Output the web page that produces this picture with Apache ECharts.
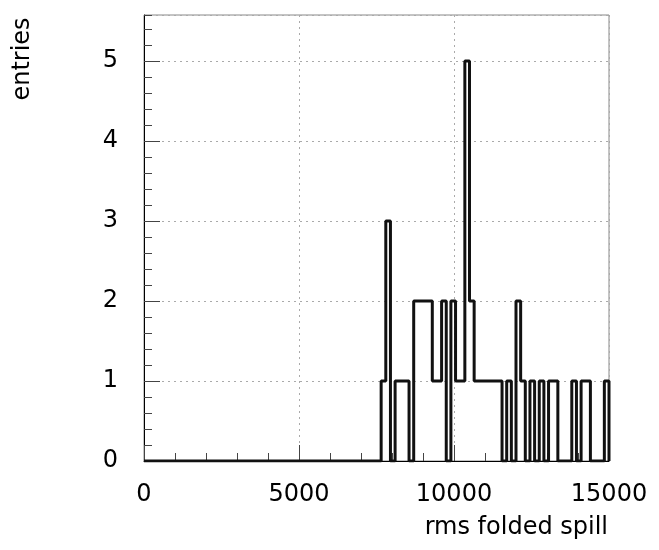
<!DOCTYPE html>
<html>
<head>
<meta charset="utf-8">
<script src="https://cdn.jsdelivr.net/npm/echarts@6/dist/echarts.min.js"></script>
<style>
html,body{margin:0;padding:0;background:#fff;}
#chart{width:659px;height:550px;}
</style>
</head>
<body>
<div id="chart"></div>
<script>
// Histogram: 100 bins from 0 to 15000
const xMin = 0;
const xMax = 15000;
const binWidth = 150;
const binCounts = [
  0,0,0,0,0,0,0,0,0,0,
  0,0,0,0,0,0,0,0,0,0,
  0,0,0,0,0,0,0,0,0,0,
  0,0,0,0,0,0,0,0,0,0,
  0,0,0,0,0,0,0,0,0,0,
  0,1,3,0,1,1,1,0,2,2,
  2,2,1,1,2,0,2,1,1,5,
  2,1,1,1,1,1,1,0,1,0,
  2,1,0,1,0,1,0,1,1,0,
  0,0,1,0,1,1,0,0,0,1
];
const xTickLabels = ['0','5000','10000','15000'];
const yTickLabels = ['0','1','2','3','4','5'];
const xTitle = 'rms folded spill';
const yTitle = 'entries';
const yMax = 5.575;

const pts = [];
for (let i = 0; i < binCounts.length; i++) {
  pts.push([xMin + i * binWidth, binCounts[i]]);
}
pts.push([xMax, binCounts[binCounts.length - 1]]);
pts.push([xMax, 0]);

const FONT = '"DejaVu Sans", sans-serif';
const chart = echarts.init(document.getElementById('chart'), null, {renderer: 'canvas'});
chart.setOption({
  animation: false,
  backgroundColor: '#fff',
  grid: {left: 144, right: 50, top: 15, bottom: 89, show: true, borderColor: '#888', borderWidth: 1, backgroundColor: 'transparent'},
  xAxis: [{
    type: 'value', min: xMin, max: xMax, interval: 5000,
    axisLine: {show: true, onZero: false, lineStyle: {color: '#000', width: 1}},
    axisTick: {show: true, inside: true, length: 16, lineStyle: {color: '#444'}},
    minorTick: {show: true, splitNumber: 5, length: 8, lineStyle: {color: '#444'}},
    splitLine: {show: true, lineStyle: {color: '#aaa', type: [2, 4], width: 1}},
    axisLabel: {
      margin: 22, fontSize: 24, fontFamily: FONT, color: '#000',
      formatter: function (v) { const s = String(v); return xTickLabels.indexOf(s) >= 0 ? s : ''; }
    }
  }],
  yAxis: [{
    type: 'value', min: 0, max: yMax, interval: 1,
    axisLine: {show: true, onZero: false, lineStyle: {color: '#000', width: 1}},
    axisTick: {show: true, inside: true, length: 16, lineStyle: {color: '#444'}},
    splitLine: {show: true, lineStyle: {color: '#aaa', type: [2, 4], width: 1}},
    axisLabel: {
      margin: 26, fontSize: 24, fontFamily: FONT, color: '#000', showMaxLabel: false,
      formatter: function (v) { const s = String(v); return yTickLabels.indexOf(s) >= 0 ? s : ''; }
    }
  }, {
    type: 'value', min: 0, max: yMax, interval: 0.2, position: 'left',
    axisLine: {show: false},
    axisTick: {show: true, inside: true, length: 8, lineStyle: {color: '#444'}},
    splitLine: {show: false},
    axisLabel: {show: false}
  }],
  graphic: [
    {type: 'text', x: 23, y: 59, rotation: Math.PI / 2,
     style: {text: yTitle, font: '24px ' + FONT, fill: '#000', align: 'center', verticalAlign: 'middle'}},
    {type: 'text', x: 608, y: 528,
     style: {text: xTitle, font: '24px ' + FONT, fill: '#000', align: 'right', verticalAlign: 'middle'}}
  ],
  series: [{
    type: 'line', xAxisIndex: 0, yAxisIndex: 0,
    step: 'end', data: pts, showSymbol: false, symbol: 'none',
    lineStyle: {color: '#111', width: 3},
    clip: true
  }]
});
</script>
</body>
</html>
